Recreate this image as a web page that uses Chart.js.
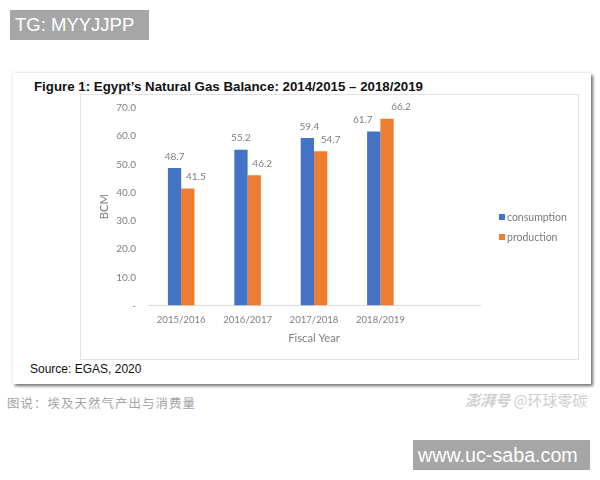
<!DOCTYPE html>
<html>
<head>
<meta charset="utf-8">
<script src="https://cdn.jsdelivr.net/npm/chart.js@4/dist/chart.umd.min.js"></script>
<style>
  html, body { margin: 0; padding: 0; background: #fff; }
  #pagina { position: relative; width: 600px; height: 480px; overflow: hidden; font-family: "Liberation Sans", sans-serif; }
  #pagina > div { position: absolute; white-space: nowrap; }
  .selo { background: #a6a6a6; color: #fff; }
  #selo-topo { left: 10px; top: 10px; width: 134px; height: 30px; padding-left: 5px; font-size: 18.5px; line-height: 30px; }
  #selo-base { left: 413px; top: 440px; width: 172px; height: 30px; padding-left: 5px; font-size: 19.7px; line-height: 30px; }
  #cartao { left: 13px; top: 73px; width: 578px; height: 311px; background: #fff; box-shadow: 2px 2px 3px #6e6e6e, -1px -1px 3px #eee; }
  #titulo { left: 34px; top: 79px; font-size: 13.3px; line-height: 16px; font-weight: bold; color: #111; }
  #moldura { left: 80px; top: 94px; width: 497px; height: 264px; border: 1px solid #e2e2e2; }
  #fonte { left: 30px; top: 361px; font-size: 12px; line-height: 16px; color: #111; }
  #legenda { left: 499px; top: 207px; z-index: 2; font-family: Lato, sans-serif; font-size: 10.5px; color: #7a7a7a; }
  #legenda .item { height: 20px; line-height: 20px; }
  #legenda i { display: inline-block; width: 6px; height: 6px; margin-right: 2px; vertical-align: 1px; }
  #legenda-foto { left: 7px; top: 395px; font-family: "Noto Sans CJK SC", sans-serif; font-size: 12.4px; line-height: 16px; color: #a3a3a3; letter-spacing: 1.1px; }
  #marca { left: 465px; top: 391px; font-family: "Noto Sans CJK SC", sans-serif; font-size: 15px; line-height: 18px; color: #cfcfcf; }
  #marca span { font-style: italic; font-weight: bold; }
  canvas { position: absolute; left: 80px; top: 94px; }
</style>
</head>
<body>
<div id="pagina">
  <div id="selo-topo" class="selo">TG: MYYJJPP</div>
  <div id="cartao"></div>
  <div id="titulo">Figure 1: Egypt’s Natural Gas Balance: 2014/2015 – 2018/2019</div>
  <div id="moldura"></div>
  <canvas id="grafico" width="498" height="265" style="width:498px;height:265px"></canvas>
  <div id="legenda"></div>
  <div id="fonte">Source: EGAS, 2020</div>
  <div id="legenda-foto">图说：埃及天然气产出与消费量</div>
  <div id="marca"><span>澎湃号</span>&nbsp;@环球零碳</div>
  <div id="selo-base" class="selo">www.uc-saba.com</div>
</div>
<script>
const anos = ['2015/2016', '2016/2017', '2017/2018', '2018/2019', ''];
const consumo = [48.7, 55.2, 59.4, 61.7, null];
const producao = [41.5, 46.2, 54.7, 66.2, null];
const nomesSeries = ['consumption', 'production'];
const coresSeries = ['#4472c4', '#ed7d31'];

const corTexto = '#7f7f7f';
const fonteEixo = { family: 'Lato, sans-serif', size: 10 };
const fonteAnos = { family: 'Lato, sans-serif', size: 9.6 };
const fonteTitulos = { family: 'Lato, sans-serif', size: 11.2 };

// deslocamento horizontal dos rótulos, como na figura original
const deslocaRotulo = [[0, 0, 2, -11], [8, 8, 10, 14]];

const rotulosBarras = {
  id: 'rotulosBarras',
  afterDatasetsDraw(chart) {
    const ctx = chart.ctx;
    ctx.save();
    ctx.font = '10px Lato, sans-serif';
    ctx.fillStyle = corTexto;
    ctx.textAlign = 'center';
    ctx.textBaseline = 'middle';
    chart.data.datasets.forEach((ds, i) => {
      chart.getDatasetMeta(i).data.forEach((barra, j) => {
        if (ds.data[j] === null) return;
        ctx.fillText(ds.data[j].toFixed(1), barra.x + deslocaRotulo[i][j], barra.y - 11.5);
      });
    });
    ctx.restore();
  }
};

new Chart(document.getElementById('grafico').getContext('2d'), {
  type: 'bar',
  data: {
    labels: anos,
    datasets: [
      { label: nomesSeries[0], data: consumo, backgroundColor: coresSeries[0] },
      { label: nomesSeries[1], data: producao, backgroundColor: coresSeries[1] }
    ]
  },
  options: {
    responsive: false,
    animation: false,
    categoryPercentage: 0.4,
    barPercentage: 1,
    layout: { padding: { top: 14, right: 98, left: 0, bottom: 0 } },
    plugins: { legend: { display: false }, tooltip: { enabled: false } },
    scales: {
      x: {
        afterFit: escala => { escala.height = 53.5; },
        grid: { display: false },
        border: { color: '#dcdcdc' },
        ticks: { color: corTexto, font: fonteAnos, padding: 1, maxRotation: 0 },
        title: { display: true, text: 'Fiscal Year', color: corTexto, font: fonteTitulos, padding: { top: 0, bottom: 14 } }
      },
      y: {
        min: 0,
        max: 70,
        afterFit: escala => {
          escala.width = 68;
          escala.paddingTop = 0;
          escala.paddingBottom = 0;
        },
        grid: { display: false },
        border: { display: false },
        ticks: {
          stepSize: 10,
          color: corTexto,
          font: fonteEixo,
          padding: 4,
          callback: v => (v === 0 ? '-' : v.toFixed(1))
        },
        title: { display: true, text: 'BCM', color: corTexto, font: fonteTitulos, padding: { top: 18, bottom: 0 } }
      }
    }
  },
  plugins: [rotulosBarras]
});

const legenda = document.getElementById('legenda');
nomesSeries.forEach((nome, i) => {
  const item = document.createElement('div');
  item.className = 'item';
  const marca = document.createElement('i');
  marca.style.background = coresSeries[i];
  item.appendChild(marca);
  item.appendChild(document.createTextNode(nome));
  legenda.appendChild(item);
});
</script>
</body>
</html>
